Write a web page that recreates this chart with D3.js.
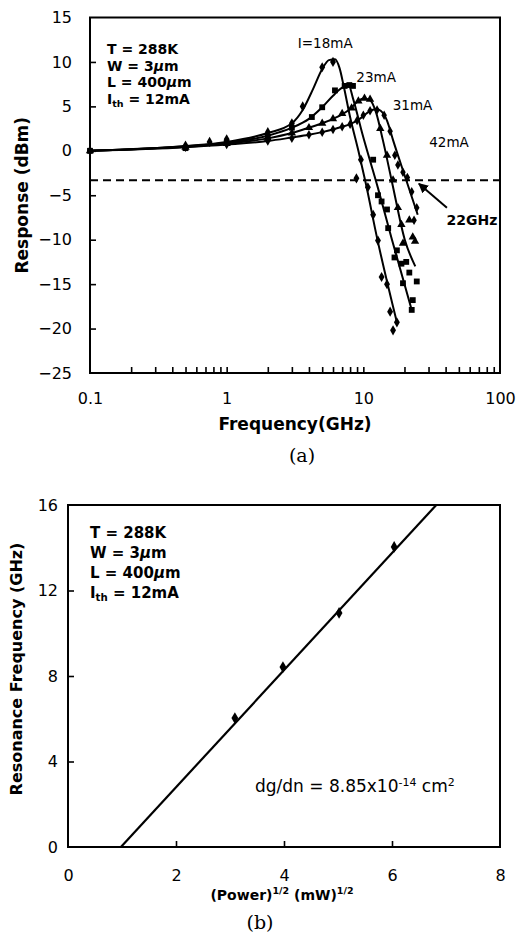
<!DOCTYPE html>
<html><head><meta charset="utf-8">
<script src="https://cdn.jsdelivr.net/npm/d3@7"></script>
<style>
body{margin:0;background:#fff;}
svg text{font-family:"DejaVu Sans",sans-serif;fill:#000;}
</style>
</head><body>
<svg id="c" width="520" height="937"></svg>
<script>
// ---------------- DATA ----------------
// Panel (a): frequency response
const freqTickLabels = [0.1, 1, 10, 100];
const respTicks = [-25, -20, -15, -10, -5, 0, 5, 10, 15];
const currentLabels = ["I=18mA", "23mA", "31mA", "42mA"];
const cutoffLevel = -3.3;          // dashed -3 dB reference
const cutoffLabel = "22GHz";

// fitted curves [GHz, dB]
const fit18 = [[0.1,0],[0.5,0.55],[1,1.0],[2,2.0],[3,3.1],[3.6,4.6],[4.3,7.0],[5,9.2],[5.6,10.2],[6.2,10.3],[6.7,9.3],[7.2,7.2],[8,3.8],[9.2,0.0],[10.4,-3.6],[12.6,-9.8],[17.6,-19.3]];
const fit23 = [[0.1,0],[0.5,0.5],[1,0.9],[2,1.7],[3,2.6],[4,3.6],[5,4.9],[6,6.2],[7,7.1],[7.8,7.4],[8.4,5.9],[9.8,2.0],[12.8,-4.2],[16.2,-10.0],[22.6,-17.9]];
const fit31 = [[0.1,0],[0.5,0.45],[1,0.8],[2,1.4],[3,2.0],[4,2.6],[5,3.1],[6,3.6],[7,4.1],[8,4.7],[9,5.5],[10,5.9],[11.2,5.7],[12.4,4.3],[13.9,1.2],[16.2,-3.5],[20.1,-10.0],[24,-13.0]];
const fit42 = [[0.1,0],[0.5,0.4],[1,0.7],[2,1.1],[3,1.5],[4,1.8],[5,2.1],[6,2.4],[7,2.7],[8,3.0],[9,3.4],[10,3.9],[11,4.4],[12.4,4.7],[13.4,4.5],[14.9,3.4],[16.5,1.2],[20.7,-3.4],[25,-7.2]];

// measured points [GHz, dB]
const pts18 = [[0.1,0],[0.5,0.6],[0.75,1.0],[1,1.3],[2,2.1],[3,3.1],[3.6,5.0],[5,9.4],[6,10.0],[8.9,-3.1],[9.6,-1.0],[10.8,-4.1],[11.8,-7.2],[12.8,-10.1],[13.6,-14.2],[14.9,-15.0],[15.7,-18.1],[16.5,-20.2],[17.6,-19.3]];
const pts23 = [[0.1,0],[0.5,0.3],[1,0.9],[2,1.6],[3,2.6],[4.2,3.8],[5,4.9],[6.2,6.8],[7.3,7.3],[7.9,7.4],[8.4,7.3],[11.8,-1.0],[12.8,-5.0],[13.6,-5.7],[14.9,-6.6],[15.2,-8.7],[16.9,-12.0],[17.6,-11.2],[19.0,-12.7],[19.5,-14.9],[20.6,-12.5],[21.7,-13.7],[22.6,-17.9],[23.0,-16.8],[24.6,-14.7]];
const pts31 = [[0.1,0],[0.5,0.4],[1,0.8],[2,1.4],[3,2.0],[4,2.6],[5,3.1],[6,3.6],[7,4.2],[8.2,4.8],[9.2,5.6],[10.2,5.9],[11.2,5.8],[13.3,2.5],[14.9,-0.5],[16.5,-3.3],[17.9,-6.4],[19.0,-8.3],[19.5,-10.4],[21.7,-7.8],[23.0,-9.7],[23.9,-10.2]];
const pts42 = [[0.1,0],[0.5,0.4],[1,0.7],[2,1.1],[3,1.4],[4,1.8],[5,2.1],[6,2.4],[7,2.7],[8,3.0],[9,3.4],[10,4.0],[11.2,4.5],[12.6,4.6],[14.2,4.0],[15.7,2.2],[17,-0.5],[17.9,-1.6],[19.5,-2.4],[21.0,-3.0],[22.6,-4.6],[23.5,-7.8],[24.6,-6.4]];

// Panel (b): resonance frequency vs sqrt(power)
const sqrtPowerTicks = [0, 2, 4, 6, 8];
const resFreqTicks = [0, 4, 8, 12, 16];
const sqrtPower = [3.09, 3.98, 5.02, 6.04];
const resFreq = [6.03, 8.42, 10.95, 14.04];
const fitSqrtPower = [0.98, 6.82];
const fitResFreq = [0, 16];

const paramLines = ["T = 288K", "W = 3µm", "L = 400µm", "Ith = 12mA"];

// ---------------- DRAW ----------------
const svg = d3.select("#c");
const BLACK = "#000";

// ===== Panel (a) =====
const xA = d3.scaleLog().domain([0.1, 100]).range([90, 500]);
const yA = d3.scaleLinear().domain([-25, 15]).range([373, 17.5]);

const gA = svg.append("g");
gA.append("rect").attr("x", xA(0.1)).attr("y", yA(15))
  .attr("width", xA(100) - xA(0.1)).attr("height", yA(-25) - yA(15))
  .attr("fill", "none").attr("stroke", BLACK).attr("stroke-width", 2);

const yAxA = d3.axisLeft(yA).tickValues(respTicks).tickSize(-6).tickSizeOuter(0).tickPadding(18).tickFormat(d3.format("d"));
const gyA = gA.append("g").attr("transform", `translate(${xA(0.1)},0)`).call(yAxA);
gyA.select(".domain").remove();
gyA.selectAll(".tick line").attr("stroke-width", 1.6).filter(d => d === 15 || d === -25).remove();
gyA.selectAll("text").attr("font-size", 16).attr("font-family", "DejaVu Sans");

const minorVals = [];
[0.1, 1, 10].forEach(dec => { for (let k = 1; k <= 9; k++) minorVals.push(+(dec * k).toPrecision(3)); });
minorVals.push(100);
const xAxA = d3.axisBottom(xA).tickValues(minorVals).tickSize(-6).tickSizeOuter(0).tickPadding(20)
  .tickFormat(d => freqTickLabels.includes(d) ? String(d) : "");
const gxA = gA.append("g").attr("transform", `translate(0,${yA(-25)})`).call(xAxA);
gxA.select(".domain").remove();
gxA.selectAll(".tick line").attr("stroke-width", 1.6)
  .filter(d => d === 0.1 || d === 100).remove();
gxA.selectAll("text").attr("font-size", 16).attr("font-family", "DejaVu Sans");

gA.append("text").attr("x", (xA(0.1) + xA(100)) / 2).attr("y", 430)
  .attr("text-anchor", "middle").attr("font-weight", "bold").attr("font-size", 17).text("Frequency(GHz)");
gA.append("text").attr("transform", `translate(28,${(yA(15) + yA(-25)) / 2}) rotate(-90)`)
  .attr("text-anchor", "middle").attr("font-weight", "bold").attr("font-size", 17).text("Response (dBm)");
gA.append("text").attr("x", 302).attr("y", 462).attr("text-anchor", "middle")
  .style("font-family", "'DejaVu Serif', serif").attr("font-size", 19).text("(a)");

gA.append("line").attr("x1", xA(0.1)).attr("x2", xA(100)).attr("y1", yA(cutoffLevel)).attr("y2", yA(cutoffLevel))
  .attr("stroke", BLACK).attr("stroke-width", 2).attr("stroke-dasharray", "8,5");

const lineA = d3.line().x(d => xA(d[0])).y(d => yA(d[1])).curve(d3.curveMonotoneX);
[fit18, fit23, fit31, fit42].forEach(f => {
  gA.append("path").attr("d", lineA(f)).attr("fill", "none").attr("stroke", BLACK).attr("stroke-width", 2);
});

const series = [
  {pts: pts18, type: d3.symbolDiamond, size: 30},
  {pts: pts23, type: d3.symbolSquare, size: 34},
  {pts: pts31, type: d3.symbolTriangle, size: 30},
  {pts: pts42, type: d3.symbolDiamond, size: 26}
];
series.forEach(s => {
  gA.append("g").selectAll("path").data(s.pts).join("path")
    .attr("d", d3.symbol().type(s.type).size(s.size))
    .attr("transform", d => `translate(${xA(d[0])},${yA(d[1])})`)
    .attr("fill", BLACK);
});

const labelPosA = [[5.26, 11.6], [12.4, 7.7], [22.9, 4.6], [42.4, 0.4]];
currentLabels.forEach((t, i) => {
  gA.append("text").attr("x", xA(labelPosA[i][0])).attr("y", yA(labelPosA[i][1]))
    .attr("text-anchor", "middle").attr("font-size", 13.5).text(t);
});

const defs = svg.append("defs");
defs.append("marker").attr("id", "ah").attr("viewBox", "0 0 10 10").attr("refX", 9).attr("refY", 5)
  .attr("markerWidth", 5).attr("markerHeight", 5).attr("orient", "auto")
  .append("path").attr("d", "M0,0 L10,5 L0,10 z").attr("fill", BLACK);
gA.append("line").attr("x1", xA(40.9)).attr("y1", yA(-6.4)).attr("x2", xA(25.5)).attr("y2", yA(-3.7))
  .attr("stroke", BLACK).attr("stroke-width", 2).attr("marker-end", "url(#ah)");
gA.append("text").attr("x", xA(62.4)).attr("y", yA(-8.3)).attr("text-anchor", "middle")
  .attr("font-weight", "bold").attr("font-size", 14).text(cutoffLabel);

function paramBlock(g, x0, y0, dy, size) {
  paramLines.forEach((ln, i) => {
    const t = g.append("text").attr("x", x0).attr("y", y0 + i * dy).attr("font-weight", "bold").attr("font-size", size);
    if (ln.startsWith("Ith")) {
      t.append("tspan").text("I");
      t.append("tspan").attr("dy", 3).attr("font-size", size * 0.68).text("th");
      t.append("tspan").attr("dy", -3).text(ln.slice(3));
    } else if (ln.includes("µ")) {
      const parts = ln.split("µ");
      t.append("tspan").text(parts[0]);
      t.append("tspan").attr("font-style", "italic").text("µ");
      t.append("tspan").text(parts[1]);
    } else t.text(ln);
  });
}
paramBlock(gA, 107, 54, 16.6, 14);

// ===== Panel (b) =====
const xB = d3.scaleLinear().domain([0, 8]).range([68, 500]);
const yB = d3.scaleLinear().domain([0, 16]).range([847, 505]);
const gB = svg.append("g");
gB.append("rect").attr("x", xB(0)).attr("y", yB(16)).attr("width", xB(8) - xB(0)).attr("height", yB(0) - yB(16))
  .attr("fill", "none").attr("stroke", BLACK).attr("stroke-width", 2);

const gyB = gB.append("g").attr("transform", `translate(${xB(0)},0)`)
  .call(d3.axisLeft(yB).tickValues(resFreqTicks).tickSize(-6).tickSizeOuter(0).tickPadding(10));
gyB.select(".domain").remove();
gyB.selectAll(".tick line").attr("stroke-width", 1.6).filter(d => d === 0 || d === 16).remove();
gyB.selectAll("text").attr("font-size", 16).attr("font-family", "DejaVu Sans");

const gxB = gB.append("g").attr("transform", `translate(0,${yB(0)})`)
  .call(d3.axisBottom(xB).tickValues(sqrtPowerTicks).tickSize(-6).tickSizeOuter(0).tickPadding(23));
gxB.select(".domain").remove();
gxB.selectAll(".tick line").attr("stroke-width", 1.6).filter(d => d === 0 || d === 8).remove();
gxB.selectAll("text").attr("font-size", 16).attr("font-family", "DejaVu Sans");

gB.append("line").attr("x1", xB(fitSqrtPower[0])).attr("y1", yB(fitResFreq[0]))
  .attr("x2", xB(fitSqrtPower[1])).attr("y2", yB(fitResFreq[1]))
  .attr("stroke", BLACK).attr("stroke-width", 2.2);
gB.append("g").selectAll("path").data(sqrtPower.map((p, i) => [p, resFreq[i]])).join("path")
  .attr("d", d3.symbol().type(d3.symbolDiamond).size(40))
  .attr("transform", d => `translate(${xB(d[0])},${yB(d[1])})`).attr("fill", BLACK);

paramBlock(gB, 90, 538, 20, 15);

const dg = gB.append("text").attr("x", 255).attr("y", 792).attr("font-size", 17);
dg.append("tspan").text("dg/dn = 8.85x10");
dg.append("tspan").attr("dy", -6).attr("font-size", 11).text("-14");
dg.append("tspan").attr("dy", 6).text(" cm");
dg.append("tspan").attr("dy", -6).attr("font-size", 11).text("2");

const xt = gB.append("text").attr("x", (xB(0) + xB(8)) / 2 - 2).attr("y", 900).attr("text-anchor", "middle")
  .attr("font-weight", "bold").attr("font-size", 14);
xt.append("tspan").text("(Power)");
xt.append("tspan").attr("dy", -6).attr("font-size", 9.5).text("1/2");
xt.append("tspan").attr("dy", 6).text(" (mW)");
xt.append("tspan").attr("dy", -6).attr("font-size", 9.5).text("1/2");

gB.append("text").attr("transform", `translate(22,669) rotate(-90)`).attr("text-anchor", "middle")
  .attr("font-weight", "bold").attr("font-size", 16).text("Resonance Frequency (GHz)");
gB.append("text").attr("x", 260).attr("y", 929).attr("text-anchor", "middle")
  .style("font-family", "'DejaVu Serif', serif").attr("font-size", 19).text("(b)");
</script>
</body></html>
